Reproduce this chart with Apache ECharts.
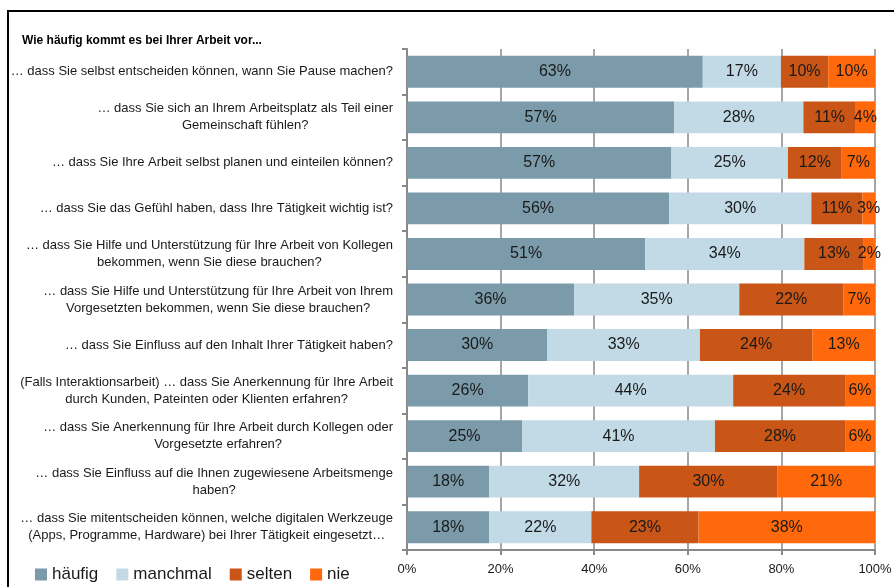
<!DOCTYPE html>
<html>
<head>
<meta charset="utf-8">
<script src="https://cdn.jsdelivr.net/npm/echarts@6/dist/echarts.min.js"></script>
<style>
  html, body { margin: 0; padding: 0; background: #fff; }
  #chart { width: 894px; height: 587px; }
</style>
</head>
<body>
<div id="chart"></div>
<script>
// Fragen (von oben nach unten)
const questions = [
  '… dass Sie selbst entscheiden können, wann Sie Pause machen?',
  '… dass Sie sich an Ihrem Arbeitsplatz als Teil einer\nGemeinschaft fühlen?',
  '… dass Sie Ihre Arbeit selbst planen und einteilen können?',
  '… dass Sie das Gefühl haben, dass Ihre Tätigkeit wichtig ist?',
  '… dass Sie Hilfe und Unterstützung für Ihre Arbeit von Kollegen\nbekommen, wenn Sie diese brauchen?',
  '… dass Sie Hilfe und Unterstützung für Ihre Arbeit von Ihrem\nVorgesetzten bekommen, wenn Sie diese brauchen?',
  '… dass Sie Einfluss auf den Inhalt Ihrer Tätigkeit haben?',
  '(Falls Interaktionsarbeit) … dass Sie Anerkennung für Ihre Arbeit\ndurch Kunden, Pateinten oder Klienten erfahren?',
  '… dass Sie Anerkennung für Ihre Arbeit durch Kollegen oder\nVorgesetzte erfahren?',
  '… dass Sie Einfluss auf die Ihnen zugewiesene Arbeitsmenge\nhaben?',
  '… dass Sie mitentscheiden können, welche digitalen Werkzeuge\n(Apps, Programme, Hardware) bei Ihrer Tätigkeit eingesetzt…'
];

const haeufig   = [63.2, 57.1, 56.5, 56.0, 50.9, 35.7, 30.0, 25.9, 24.6, 17.6, 17.6];
const manchmal  = [16.7, 27.6, 24.9, 30.4, 34.0, 35.3, 32.6, 43.8, 41.2, 32.0, 21.8];
const selten    = [10.1, 11.2, 11.5, 10.9, 12.7, 22.2, 24.0, 23.9, 27.8, 29.6, 22.9];
const nie       = [10.0,  4.1,  7.1,  2.7,  2.4,  6.8, 13.4,  6.4,  6.4, 20.8, 37.7];

const seriesNames = ['häufig', 'manchmal', 'selten', 'nie'];
const colors = ['#7b9bab', '#c1dae6', '#c95516', '#ff690c'];
const xTicks = [0, 20, 40, 60, 80, 100];

const chart = echarts.init(document.getElementById('chart'));

const makeSeries = (name, data, i) => ({
  name: name,
  type: 'bar',
  stack: 'total',
  barCategoryGap: '30%',
  data: data,
  itemStyle: { color: colors[i] },
  label: {
    show: true,
    position: 'inside',
    fontFamily: 'Liberation Sans',
    fontSize: 16,
    color: '#1a1a1a',
    formatter: p => Math.round(p.value) + '%'
  }
});

chart.setOption({
  animation: false,
  textStyle: { fontFamily: 'Liberation Sans' },
  graphic: [
    {
      type: 'rect',
      shape: { x: 8, y: 11, width: 1000, height: 1000 },
      style: { fill: 'none', stroke: '#000', lineWidth: 2 }
    },
    {
      type: 'text',
      left: 22,
      top: 35,
      style: {
        text: 'Wie häufig kommt es bei Ihrer Arbeit vor...',
        fontFamily: 'Liberation Sans',
        fontWeight: 'bold',
        fontSize: 12,
        fill: '#000'
      }
    }
  ],
  legend: {
    data: seriesNames,
    left: 30,
    top: 561,
    icon: 'rect',
    itemWidth: 12,
    itemHeight: 12,
    itemGap: 18,
    textStyle: { fontSize: 17, color: '#1a1a1a', fontFamily: 'Liberation Sans' }
  },
  grid: { left: 407, right: 19, top: 49, bottom: 37, outerBoundsMode: 'none', containLabel: false },
  xAxis: {
    type: 'value',
    min: xTicks[0],
    max: xTicks[xTicks.length - 1],
    interval: 20,
    axisLine: { show: true, lineStyle: { color: '#888', width: 2 } },
    axisTick: { show: true, length: 5, lineStyle: { color: '#888', width: 2 } },
    axisLabel: { formatter: '{value}%', fontSize: 13, color: '#1a1a1a', margin: 13 },
    splitLine: { show: true, lineStyle: { color: '#888', width: 1.5 } }
  },
  yAxis: {
    type: 'category',
    inverse: true,
    data: questions,
    axisLine: { show: true, lineStyle: { color: '#888', width: 2 } },
    axisTick: { show: true, length: 5, lineStyle: { color: '#888', width: 2 } },
    axisLabel: {
      margin: 14,
      align: 'right',
      formatter: v => v.split('\n').map(s => '{c|' + s + '}').join('\n'),
      rich: {
        c: { align: 'center', fontSize: 13, lineHeight: 17, color: '#1a1a1a', fontFamily: 'Liberation Sans' }
      }
    }
  },
  series: [
    makeSeries(seriesNames[0], haeufig, 0),
    makeSeries(seriesNames[1], manchmal, 1),
    makeSeries(seriesNames[2], selten, 2),
    makeSeries(seriesNames[3], nie, 3)
  ]
});
</script>
</body>
</html>
